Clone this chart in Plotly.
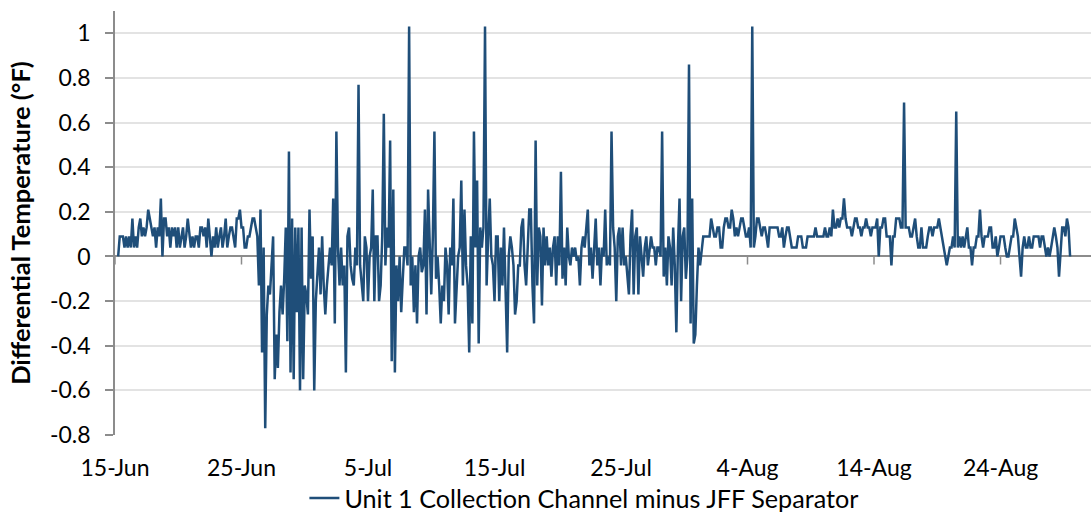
import pandas as pd
import plotly.graph_objects as go

# Differential temperature (°F), sampled every 3 hours starting 15-Jun 06:00
june_a = [
    0.0, 0.09, 0.09, 0.09, 0.04, 0.09,
    0.04, 0.09, 0.04, 0.17, 0.04, 0.09, 0.04, 0.13,
    0.17, 0.09, 0.13, 0.09, 0.13, 0.21, 0.17, 0.13,
    0.09, 0.13, 0.04, 0.13, 0.09, 0.26, 0.0, 0.17,
    0.17, 0.09, 0.13, 0.04, 0.13, 0.09, 0.13, 0.04,
    0.13, 0.04, 0.09, 0.13, 0.04, 0.09, 0.17, 0.09,
    0.04, 0.09, 0.04, 0.09, 0.09, 0.04, 0.13, 0.13,
    0.09, 0.13, 0.04, 0.17, 0.09, 0.0, 0.09, 0.04,
    0.13, 0.04, 0.09, 0.13, 0.04, 0.09, 0.17, 0.04,
    0.09, 0.13, 0.13, 0.09, 0.04, 0.17, 0.17, 0.21,
]
june_b = [
    0.13, 0.13, 0.04, 0.04, 0.09, 0.09, 0.13, 0.17,
    0.17, 0.13, 0.09, -0.13, 0.21, -0.43, 0.04, -0.77,
    -0.26, -0.13, -0.17, -0.04, 0.09, -0.55, -0.35, -0.5,
    -0.25, -0.13, -0.26, -0.1, 0.13, -0.38, 0.47, -0.52,
    0.17, -0.55, 0.13, -0.25, 0.13, -0.6, 0.13, -0.55,
    -0.13, -0.17, -0.26, 0.21, -0.1, 0.09, -0.6, -0.2,
]
july_a = [
    -0.1, 0.04, -0.17, 0.09, -0.13, -0.26, -0.13, -0.04,
    0.04, -0.04, 0.26, -0.3, 0.56, 0.04, -0.13, 0.04,
    -0.13, -0.04, -0.52, 0.09, 0.13, -0.04, -0.1, -0.13,
    0.04, -0.04, 0.77, -0.04, -0.13, -0.2, 0.09, 0.04,
    -0.2, 0.0, 0.04, 0.3, -0.2, 0.09, 0.09, -0.2,
    -0.13, 0.09, 0.64, -0.04, 0.13, 0.04, 0.52, -0.47,
    0.3, -0.52, -0.04, -0.2, 0.0, -0.25, -0.1, 0.04,
    0.04, -0.04, 1.03, -0.13, 0.0, -0.25, -0.04, -0.3,
    0.0, 0.04, -0.07, -0.04, 0.21, -0.26, 0.3, 0.09,
    -0.17, 0.09, 0.56, -0.1, 0.0, -0.13, -0.3, -0.13,
]
july_b = [
    -0.2, 0.04, -0.04, -0.26, 0.04, -0.04, 0.26, -0.3,
    -0.13, 0.0, 0.04, 0.34, -0.13, 0.21, -0.04, -0.13,
    -0.43, 0.09, -0.3, 0.56, 0.04, 0.34, -0.39, 0.13,
    0.04, 0.13, 1.03, -0.13, 0.09, 0.26, 0.0, -0.04,
    -0.2, 0.09, 0.09, -0.2, 0.04, -0.13, 0.13, -0.2,
    -0.43, 0.0, 0.09, 0.04, -0.04, -0.26, -0.2, -0.04,
    -0.04, 0.13, 0.17, -0.04, -0.13, 0.04, 0.21, 0.21,
    -0.13, -0.3, 0.52, -0.13, 0.13, 0.09, -0.22, 0.13,
    -0.04, 0.09, -0.04, 0.04, -0.09, 0.04, 0.09, -0.13,
    0.09, -0.04, 0.38, -0.1, 0.04, -0.13, 0.13, 0.0,
    -0.04, 0.04, 0.0, 0.04, -0.02, 0.0, -0.13, 0.04,
    0.09, 0.04, 0.13, 0.21, -0.04, 0.04, -0.1, 0.04,
    0.17, -0.04, 0.04, -0.13, 0.04, 0.0, 0.21, -0.04,
    0.0, -0.04, 0.56, 0.13, 0.04, -0.2, 0.09, 0.13,
]
july_c = [
    -0.04, 0.13, -0.04, 0.0, -0.1, -0.17, 0.09, 0.21,
    -0.17, 0.09, 0.13, -0.17, 0.09, 0.0, -0.09, 0.04,
    0.09, -0.04, 0.04, 0.09, 0.04, 0.04, -0.04, 0.04,
    0.04, 0.0, 0.56, -0.09, 0.04, -0.13, 0.09, 0.04,
    -0.13, 0.13, -0.04, -0.34, 0.04, 0.26, -0.2, 0.09,
    0.13, -0.1, 0.0, 0.86, -0.3, 0.26, -0.39, -0.35,
    -0.13, 0.04, -0.04, 0.04, 0.09, 0.09, 0.09, 0.09,
]
august_a = [
    0.09, 0.17, 0.13, 0.09, 0.09, 0.13, 0.13, 0.04,
    0.04, 0.13, 0.17, 0.17, 0.13, 0.13, 0.21, 0.17,
    0.09, 0.13, 0.09, 0.13, 0.17, 0.17, 0.13, 0.09,
    0.09, 0.13, 0.04, 1.03, 0.04, 0.09, 0.17, 0.17,
    0.13, 0.09, 0.13, 0.13, 0.09, 0.04, 0.13, 0.13,
    0.13, 0.13, 0.13, 0.13, 0.09, 0.09, 0.13, 0.04,
    0.09, 0.13, 0.13, 0.09, 0.04, 0.04, 0.04, 0.04,
    0.09, 0.09, 0.09, 0.04, 0.04, 0.04, 0.09, 0.09,
    0.09, 0.09, 0.09, 0.13, 0.09, 0.09, 0.09, 0.09,
    0.09, 0.13, 0.09, 0.09, 0.13, 0.09, 0.21, 0.13,
    0.13, 0.17, 0.13, 0.17, 0.17, 0.26, 0.17, 0.13,
    0.13, 0.13, 0.09, 0.13, 0.17, 0.17, 0.13, 0.13,
    0.09, 0.13, 0.13, 0.17, 0.13, 0.13, 0.09, 0.13,
    0.13, 0.13, 0.17, 0.0, 0.13, 0.13, 0.17, 0.17,
]
august_b = [
    0.09, 0.09, 0.09, -0.04, 0.09, 0.09, 0.17, 0.17,
    0.17, 0.13, 0.13, 0.69, 0.13, 0.13, 0.13, 0.09,
    0.09, 0.13, 0.17, 0.09, 0.04, 0.04, 0.13, 0.04,
    0.04, 0.04, 0.09, 0.13, 0.13, 0.09, 0.13, 0.13,
    0.13, 0.17, 0.13, 0.09, 0.04, 0.0, -0.04, 0.0,
    0.04, 0.04, 0.09, 0.04, 0.65, 0.04, 0.09, 0.04,
    0.09, 0.04, 0.09, 0.13, 0.04, 0.04, -0.04, 0.04,
    0.04, 0.09, 0.09, 0.21, 0.09, 0.04, 0.09, 0.09,
    0.09, 0.13, 0.13, 0.04, 0.04, 0.09, 0.0, 0.04,
    0.09, 0.09, 0.09, 0.04, 0.0, 0.0, 0.04, 0.09,
    0.09, 0.17, 0.13, 0.09, 0.0, -0.09, 0.04, 0.09,
    0.04, 0.04, 0.09, 0.04, 0.04, 0.09, 0.09, 0.09,
    0.09, 0.04, 0.09, 0.09, 0.04, 0.0, 0.04, 0.0,
    0.04, 0.09, 0.13, 0.09, 0.04, -0.09, 0.04, 0.13,
    0.13, 0.09, 0.17, 0.13, 0.0,
]

series_name = "Unit 1 Collection Channel minus JFF Separator"
y_title = "Differential Temperature (°F)"
start_time = "2023-06-15 06:00"
sample_step = "3h"

x_tick_dates = ["2023-06-15", "2023-06-25", "2023-07-05", "2023-07-15",
                "2023-07-25", "2023-08-04", "2023-08-14", "2023-08-24"]
x_tick_labels = ["15-Jun", "25-Jun", "5-Jul", "15-Jul", "25-Jul", "4-Aug", "14-Aug", "24-Aug"]
y_tick_vals = [-0.8, -0.6, -0.4, -0.2, 0, 0.2, 0.4, 0.6, 0.8, 1]
y_tick_labels = ["-0.8", "-0.6", "-0.4", "-0.2", "0", "0.2", "0.4", "0.6", "0.8", "1"]

values = june_a + june_b + july_a + july_b + july_c + august_a + august_b
times = pd.date_range(start_time, periods=len(values), freq=sample_step)

FONT = "Lato"
LINE_COLOR = "#1f4e79"
AXIS_GRAY = "#8c8c8c"

fig = go.Figure()
fig.add_trace(go.Scatter(
    x=times, y=values, mode="lines", name=series_name,
    line=dict(color=LINE_COLOR, width=2.5),
    showlegend=True,
))

# small tick marks on the zero line (category axis crossing at 0)
for d in x_tick_dates:
    fig.add_shape(type="line", xref="x", yref="y", x0=d, x1=d, y0=0, y1=-0.036,
                  line=dict(color=AXIS_GRAY, width=1.5), layer="below")

fig.update_layout(
    width=1091, height=512,
    margin=dict(l=115, r=0, t=11, b=77, autoexpand=False),
    paper_bgcolor="white", plot_bgcolor="white",
    font=dict(family=FONT, size=23, color="#000000"),
    showlegend=True,
    legend=dict(orientation="h", xref="container", yref="container",
                x=0.279, xanchor="left", y=0.027, yanchor="middle",
                font=dict(family=FONT, size=25.2, color="#000000"),
                bgcolor="rgba(0,0,0,0)"),
    xaxis=dict(
        type="date", automargin=False,
        range=["2023-06-15 00:00", "2023-08-31 03:40"],
        tickvals=x_tick_dates, ticktext=x_tick_labels,
        showgrid=False, zeroline=False, showline=False,
        ticks="outside", ticklen=12, tickcolor="rgba(0,0,0,0)",
        tickfont=dict(family=FONT, size=23, color="#000000"),
    ),
    yaxis=dict(
        automargin=False,
        range=[-0.8, 1.1],
        tickvals=y_tick_vals, ticktext=y_tick_labels,
        showgrid=True, gridcolor="#e3e3e3", gridwidth=1.5,
        zeroline=True, zerolinecolor=AXIS_GRAY, zerolinewidth=1.5,
        showline=True, linecolor=AXIS_GRAY, linewidth=1.5,
        ticks="outside", ticklen=8, tickcolor=AXIS_GRAY, tickwidth=1.5,
        ticklabelstandoff=10,
        tickfont=dict(family=FONT, size=23, color="#000000"),
        title=dict(text=y_title, standoff=12,
                   font=dict(family=FONT, size=25.5, color="#000000", weight="bold")),
    ),
)

fig.write_html("out.html", config=dict(displayModeBar=False),
               post_script="document.body.style.margin='0';")
